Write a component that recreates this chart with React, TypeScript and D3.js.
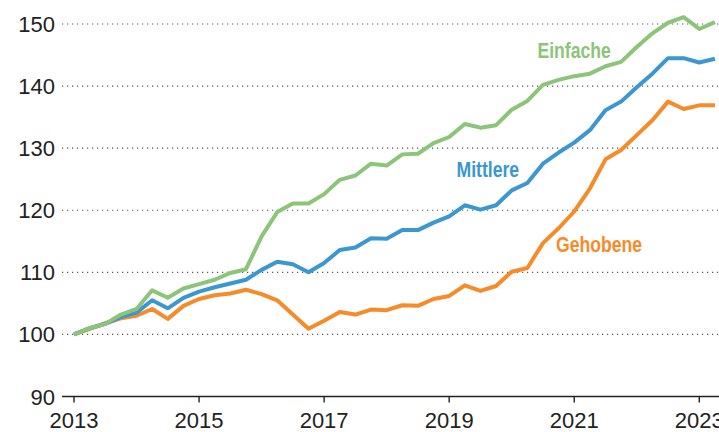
import React from "react";
import * as d3 from "d3";

const startYear = 2013;
const quartersPerYear = 4;

const einfache = [
  100, 101.0, 101.7, 103.2, 104.1, 107.1, 105.9, 107.4, 108.1, 108.8,
  109.9, 110.5, 115.8, 119.7, 121.1, 121.1, 122.6, 124.9, 125.6, 127.5,
  127.2, 129.0, 129.1, 130.8, 131.8, 133.9, 133.3, 133.7, 136.2, 137.6,
  140.2, 141.0, 141.6, 142.0, 143.2, 143.9, 146.3, 148.5, 150.2, 151.1,
  149.2, 150.3,
];
const mittlere = [
  100, 101.0, 101.7, 102.8, 103.5, 105.5, 104.2, 105.9, 106.9, 107.6,
  108.2, 108.8, 110.4, 111.7, 111.3, 110.0, 111.5, 113.6, 114.0, 115.5,
  115.4, 116.8, 116.8, 118.0, 119.0, 120.8, 120.1, 120.8, 123.2, 124.4,
  127.5, 129.3, 130.9, 132.9, 136.1, 137.5, 139.8, 142.0, 144.5, 144.5,
  143.8, 144.4,
];
const gehobene = [
  100, 100.9, 101.8, 102.6, 103.0, 104.1, 102.5, 104.6, 105.7, 106.3,
  106.6, 107.2, 106.5, 105.5, 103.2, 100.9, 102.2, 103.6, 103.2, 104.0,
  103.9, 104.7, 104.6, 105.7, 106.2, 107.9, 107.0, 107.8, 110.1, 110.7,
  114.7, 117.1, 119.8, 123.5, 128.2, 129.7, 132.1, 134.5, 137.5, 136.3,
  136.9, 136.9,
];

const yTicks = [90, 100, 110, 120, 130, 140, 150];
const xTicks = [2013, 2015, 2017, 2019, 2021, 2023];

const seriesList = [
  { name: "Gehobene", values: gehobene, color: "#f68b2a", lx: 556, ly: 252 },
  { name: "Mittlere", values: mittlere, color: "#3b97d0", lx: 456.5, ly: 177 },
  { name: "Einfache", values: einfache, color: "#8cc47a", lx: 537.5, ly: 58 },
];

const W = 719;
const H = 432;

export default function App() {
  const x = d3.scaleLinear().domain([2013, 2023]).range([74, 699.3]);
  const y = d3.scaleLinear().domain([90, 150]).range([396.5, 24]);
  const gridLeft = 62;
  const gridRight = W;

  const line = d3
    .line<number>()
    .x((_, i) => x(startYear + i / quartersPerYear))
    .y((v) => y(v));

  return (
    <svg
      width={W}
      height={H}
      style={{ position: "absolute", left: 0, top: 0, background: "#fff" }}
    >
      {yTicks.map((t) => (
        <g key={t}>
          {t !== 90 && (
            <line
              x1={gridLeft}
              x2={gridRight}
              y1={y(t)}
              y2={y(t)}
              stroke="#555"
              strokeWidth={1.2}
              strokeDasharray="1.2 3.8"
            />
          )}
          <text
            x={55}
            y={y(t) + 8}
            textAnchor="end"
            fontFamily="'Liberation Sans', Arial, sans-serif"
            fontSize={22}
            fill="#222"
          >
            {t}
          </text>
        </g>
      ))}
      <line
        x1={gridLeft}
        x2={gridRight}
        y1={y(90)}
        y2={y(90)}
        stroke="#222"
        strokeWidth={1.4}
      />
      {xTicks.map((t) => (
        <g key={t}>
          <line
            x1={x(t)}
            x2={x(t)}
            y1={y(90)}
            y2={y(90) + 6}
            stroke="#222"
            strokeWidth={1.4}
          />
          <text
            x={x(t)}
            y={427.5}
            textAnchor="middle"
            fontFamily="'Liberation Sans', Arial, sans-serif"
            fontSize={22}
            fill="#222"
          >
            {t}
          </text>
        </g>
      ))}
      {seriesList.map((s) => (
        <path
          key={s.name}
          d={line(s.values) || ""}
          fill="none"
          stroke={s.color}
          strokeWidth={4}
          strokeLinejoin="round"
          strokeLinecap="butt"
        />
      ))}
      {seriesList.map((s) => (
        <text
          key={s.name + "l"}
          transform={`translate(${s.lx},${s.ly}) scale(0.8,1)`}
          fontFamily="'Liberation Sans', Arial, sans-serif"
          fontWeight="bold"
          fontSize={22}
          fill={s.color}
        >
          {s.name}
        </text>
      ))}
    </svg>
  );
}
